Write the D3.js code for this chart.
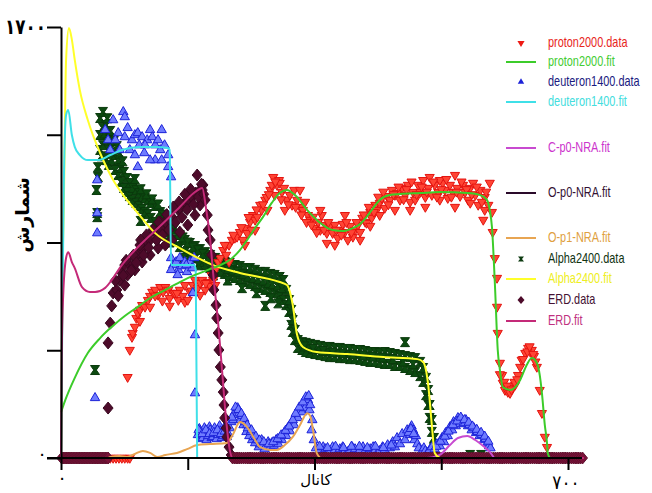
<!DOCTYPE html>
<html>
<head>
<meta charset="utf-8">
<script src="https://cdn.jsdelivr.net/npm/d3@7"></script>
<style>
  body { margin: 0; background: #fff; }
  .leg { font-family: "Liberation Sans", Arial, sans-serif; font-size: 14px; }
  .fa { font-family: "DejaVu Sans", sans-serif; }
</style>
</head>
<body>
<script>
var width = 652,
    height = 493;

// ---- data: [channel, counts] ----
var protonData = [
  [68,0],[72,0],[76,0],[80,0],[84,0],[88,0],[92,0],[95,0],
  [92,319],[95,426],[98,477],[99,493],[102,517],[104,552],[106,572],[109,584],[112,603],[116,596],[120,623],[123,639],
  [126,655],[130,663],[134,643],[137,674],[141,655],[144,674],[148,663],[150,631],[155,651],[157,651],[162,623],[164,663],
  [168,639],[171,615],[175,623],[178,655],[182,682],[185,702],[189,671],[192,690],[195,702],[199,663],[203,694],[206,678],
  [210,702],[213,742],[217,773],[220,789],[224,820],[228,801],[232,840],[236,860],[240,868],[243,872],[247,891],[251,860],
  [254,907],[257,887],[261,931],[265,958],[268,939],[271,951],[275,998],[277,978],[282,1018],[284,1029],[289,1057],[291,1077],
  [293,1108],[295,1037],[298,1077],[301,1096],[302,1085],[305,1049],[308,1065],[312,1018],[316,1037],[319,998],[322,1057],
  [326,1018],[330,990],[334,978],[337,1010],[341,958],[344,939],[348,951],[351,907],[355,931],[358,899],[360,958],[365,919],
  [367,887],[367,848],[371,915],[375,887],[378,919],[382,868],[385,899],[389,923],[392,891],[396,860],[399,915],[403,872],
  [406,899],[410,919],[413,891],[416,947],[420,931],[422,927],[427,970],[429,947],[434,998],[436,978],[440,1006],[443,1025],
  [447,986],[450,1033],[454,1018],[457,1057],[461,1037],[464,1045],[468,1018],[471,1065],[475,1037],[479,1077],[482,1010],
  [486,1049],[489,1018],[493,1077],[496,1049],[500,1096],[503,1029],[507,1065],[509,1108],[512,1037],[516,1077],[521,1049],
  [523,1018],[527,1085],[530,1057],[534,1025],[537,1077],[541,1049],[544,1116],[547,1065],[551,1033],[555,1077],[558,1049],
  [562,1018],[565,1065],[569,1085],[572,1037],[576,998],[579,1057],[583,939],[585,1029],[590,998],[592,1085],[595,970],
  [596,891],[599,788],[602,710],[602,596],[603,493],[606,375],[609,327],[610,296],[613,268],[617,260],[620,256],[623,276],
  [627,288],[631,327],[634,359],[636,387],[641,414],[645,434],[648,418],[650,426],[653,402],[657,359],[661,268],[664,177],
  [668,83],[671,43],[674,8],
  [309,978],[330,1057],[358,978],[378,840],[392,958],[413,860],[427,915],[440,958],[461,978],[482,978],[503,990],[523,1096],
  [544,990],[565,1006],[585,978],[285,978],[268,899],[254,840],[232,773],[213,682],[192,643],[171,682],[150,600],[123,596],[109,540],
  [226,840],[238,880],[249,910],[259,950],[263,900],[270,980],[279,1000],[287,1040],[296,1090],[304,1020],[314,1000],[324,990],
  [332,960],[339,930],[346,920],[353,890],[363,900],[369,930],[380,900],[387,880],[394,930],[401,890],[408,930],[418,960],
  [425,990],[432,970],[438,1030],[445,1050],[452,1000],[459,1040],[466,1070],[473,1020],[477,1060],[484,1090],[491,1040],
  [498,1070],[505,1050],[514,1090],[519,1030],[525,1060],[532,1100],[539,1030],[546,1050],[553,1090],[560,1060],[567,1040],
  [574,1070],[581,1010],[587,1050],[130,640],[140,620],[160,650],[180,660],[200,690],[208,720],
  [606,330],[612,300],[616,285],[622,270],[626,300],[630,310],[638,390],[644,420],[647,440],[652,410],[655,380]
];

var deuteronData = [
  [47,237],[50,1096],[50,966],[50,887],
  [61,1294],[65,1254],[72,1333],[79,1282],[86,1365],[88,1345],[92,1302],[98,1254],[102,1274],[106,1282],[108,1234],[112,1266],
  [115,1203],[119,1254],[123,1294],[126,1266],[130,1234],[130,1175],[134,1254],[137,1215],[139,1294],[139,1175],[143,1234],
  [148,1195],[148,1148],[152,1108],[106,1148],[95,1215],[81,1215],[68,1215],[75,1254],[88,1266],[102,1195],[116,1234],[123,1175],
  [152,789],[155,761],[159,773],[162,742],[164,789],[167,757],[171,773],[174,734],[178,773],[181,749],[184,789],[152,742],
  [161,722],[173,761],[182,651],[185,485],[185,256],
  [189,91],[191,115],[192,103],[194,75],[196,79],[198,118],[199,99],[201,71],[203,87],[205,122],[206,110],[208,79],[210,83],
  [212,118],[213,99],[215,75],[217,91],[219,126],[220,106],[222,79],[224,87],[226,122],[227,103],[229,83],[231,95],
  [233,118],[235,142],[238,150],[240,181],[242,170],[244,197],[246,177],[248,150],[250,166],[252,130],[254,142],[256,103],
  [258,118],[260,87],[262,103],[264,71],[266,83],[268,59],[271,71],[273,43],[275,55],[277,71],[279,51],[281,35],[283,47],
  [286,63],[289,43],[291,59],[294,47],[297,71],[300,55],[302,79],[305,71],[308,99],[311,87],[313,118],[316,106],[319,142],
  [322,130],[325,166],[327,158],[330,189],[333,181],[335,213],[337,197],[339,229],[341,229],[343,189],[344,209],[346,110],
  [347,150],[349,71],[352,39],
  [355,20],[358,32],[362,43],[365,35],[369,24],[372,28],[375,43],[378,32],[382,20],[385,35],[389,43],[392,28],[396,24],
  [399,32],[402,43],[406,35],[410,20],[413,32],[417,43],[420,28],[424,24],[427,35],[431,43],[434,32],[437,20],[440,28],
  [444,43],[447,32],[451,51],[454,39],[458,63],[461,43],[464,79],[468,55],[471,95],[475,71],[478,110],[482,91],[484,126],
  [486,110],[488,71],[490,87],[492,55],[494,39],[498,24],[501,39],[503,28],[506,20],[509,32],[512,43],
  [516,35],[519,55],[523,47],[526,79],[529,63],[531,99],[534,87],[537,122],[540,110],[542,142],[545,126],[548,158],[551,134],
  [553,154],[556,138],[559,150],[562,126],[564,130],[567,110],[570,118],[573,99],[575,103],[578,87],[581,91],[584,71],
  [586,75],[589,59],[591,47],[593,39],
  [236,160],[241,200],[245,190],[249,175],[253,155],[257,130],[263,110],[269,85],[274,70],[280,63],[287,55],[293,63],
  [299,75],[304,90],[310,108],[315,125],[320,150],[324,175],[329,200],[334,220],[338,240],[342,245],
  [190,110],[195,95],[200,110],[205,95],[211,100],[216,110],[221,95],[226,105],
  [518,45],[524,65],[530,85],[535,105],[541,130],[547,145],[552,160],[557,150],[563,140],[568,125],[574,112],[580,100],
  [585,85],[590,65],[480,100],[483,115],[487,95],
  [357,45],[368,40],[379,45],[390,40],[401,45],[412,45],[423,40],[434,45],[445,40],[456,50]
];

var alphaData = [
  [47,347],[49,1057],[50,966],[51,1108],[51,1147],[50,950],
  [54,1341],[54,1274],[54,1215],[58,1365],[58,1302],[58,1234],[62,1313],[62,1254],[62,1175],[66,1262],[66,1215],[66,1156],
  [70,1223],[70,1175],[75,1195],[75,1136],[79,1175],[79,1116],[83,1144],[83,1089],[87,1128],[87,1065],[91,1104],[91,1049],
  [95,1085],[95,1033],[99,1065],[99,1018],[104,1057],[104,1006],[108,1045],[108,994],[112,1033],[112,982],[116,1025],[116,970],
  [120,1018],[120,962],[124,1006],[124,947],[130,994],[130,931],[137,970],[137,919],[144,947],[144,891],[150,931],[150,876],
  [157,907],[157,860],[164,880],[164,832],[171,860],[171,812],[178,848],[178,801],[185,836],[185,789],[192,824],[192,773],
  [199,812],[199,761],[206,801],[206,749],[213,789],[213,742],[220,781],[220,734],[226,773],[226,726],[233,769],[233,718],
  [240,761],[240,710],[247,757],[247,702],[254,749],[254,694],[261,749],[261,686],[268,742],[268,678],[275,734],[275,671],
  [282,734],[282,663],[289,726],[289,655],[295,722],[295,651],[302,714],[302,639],[307,702],[307,623],[311,663],[311,603],
  [315,623],[315,576],[318,584],[318,525],[320,544],[320,497],[323,505],[323,465],[327,465],[327,434],[333,457],[333,426],
  [338,454],[338,418],[344,450],[344,414],[351,446],[351,410],[358,442],[358,406],[365,438],[365,402],[371,438],[371,398],
  [378,434],[378,398],[385,434],[385,394],[392,430],[392,394],[399,430],[399,390],[406,426],[406,390],[413,426],[413,387],
  [420,422],[420,383],[427,418],[427,379],[434,418],[434,379],[440,414],[440,375],[447,418],[447,371],[454,414],[454,371],
  [461,410],[461,363],[468,406],[468,363],[475,402],[475,355],[482,398],[482,347],[489,394],[489,339],[496,379],[496,323],
  [500,355],[500,300],[504,316],[504,248],[507,268],[507,209],[509,209],[509,158],[512,150],[512,103],[515,79],[515,39],
  [475,457],[282,600],[565,12],[580,12],
  [56,1190],[60,1280],[64,1340],[68,1290],[73,1250],[77,1230],[81,1200],[85,1170],
  [102,1100],[110,1060],[118,1040],[126,1020],[134,1000],[141,960],[147,930],[154,900],[161,880],[168,870],[175,850],
  [182,830],[189,820],[196,805],[203,790],[210,775],[216,765],[223,760],[230,745],[237,740],[244,735],[251,725],[258,715],
  [265,710],[272,705],[279,700],[286,690],[292,685],[299,680],[305,670],
  [110,935],[130,900],[150,850],[170,790],[190,760],[210,720],[230,700],[250,670],[270,650],[290,630],[300,610],
  [336,440],[348,430],[362,422],[375,416],[389,412],[403,408],[417,404],[430,400],[444,396],[458,390],[472,380],[486,370]
];

var erdData = [
  [65,197],[68,532],[65,454],[72,651],[77,663],[84,730],[88,682],[95,761],[102,789],[106,809],[112,820],[116,852],[123,860],
  [130,887],[137,907],[144,931],[150,939],[153,951],[162,978],[168,998],[175,1018],[181,1029],[186,1045],[192,1057],[195,1057],
  [188,1116],[196,1077],
  [81,702],[92,722],[102,742],[112,773],[123,801],[134,828],[144,840],[153,860],[164,891],[175,919],[185,958],[192,998],
  [88,761],[109,840],[137,931],[164,986],
  [70,600],[75,700],[79,640],[86,720],[90,780],[97,740],[100,800],[104,770],[110,860],[114,800],[118,880],[121,830],
  [127,900],[132,860],[135,930],[140,880],[146,960],[149,900],[155,990],[158,930],[163,1010],[167,950],[171,1040],[174,980],
  [179,1060],[183,1000],[190,1030],[194,1080],[197,1040],
  [199,1018],[202,958],[203,899],[206,860],[208,801],[210,722],[211,663],[214,603],[215,552],[217,493],[218,426],[220,359],
  [222,308],[224,260],[225,209],[226,158],[228,118],[229,83],[232,43],[235,12]
];

// channels where the ERD spectrum sits on zero
var erdZeroChannels = [1,3,5,7,9,11,13,15,17,19,21,23,25,27,29,31,33,35,37,39,41,43,45,47,49,51,53,55,57,59,61,63,65,
  237,240,243,246,249,252,255,258,261,264,267,270,273,276,279,282,285,288,291,294,297,300,303,306,309,312,315,318,321,
  324,327,330,333,336,339,342,345,348,351,354,357,360,363,366,369,372,375,378,381,384,387,390,393,396,399,402,405,408,
  411,414,417,420,423,426,429,432,435,438,441,444,447,450,453,456,459,462,465,468,471,474,477,480,483,486,489,492,495,
  498,501,504,507,510,513,516,519,522,525,528,531,534,537,540,543,546,549,552,555,558,561,564,567,570,573,576,579,582,
  585,588,591,594,597,600,603,606,609,612,615,618,621,624,627,630,633,636,639,642,645,648,651,654,657,660,663,666,669,
  672,675,678,681,684,687,690,693,696,699,702,705,708,711,714,717,720];

var protonFit = [[0,180],[6,229],[19,316],[37,414],[54,473],[70,517],[88,560],[106,596],[123,631],[144,663],[164,694],
  [185,722],[203,742],[220,761],[233,781],[247,820],[257,860],[268,907],[279,951],[291,1006],[302,1045],[312,1057],
  [323,1037],[340,978],[358,927],[375,899],[389,895],[403,907],[413,923],[422,951],[431,986],[440,1018],[454,1037],
  [468,1041],[496,1045],[523,1049],[561,1045],[579,1037],[588,1018],[592,978],[595,911],[599,690],[603,426],[606,347],
  [610,280],[620,268],[634,308],[643,367],[650,394],[657,375],[661,327],[664,256],[668,130],[671,59],[672,20],[675,0]];

var deuteronFit = [[0,0],[2,600],[4,1100],[7,1353],[10,1373],[15,1274],[19,1227],[26,1195],[37,1175],[51,1175],[68,1195],
  [84,1215],[109,1227],[130,1227],[148,1223],[150,1215],[152,761],[171,761],[184,761],[186,742],[188,0]];

var cp0Fit = [[505,0],[512,2],[523,12],[537,51],[548,79],[561,87],[572,71],[583,47],[592,24],[598,0]];

var op0Fit = [[0,0],[720,0]];

var op1Fit = [[65,0],[68,4],[81,8],[91,4],[102,16],[113,28],[123,20],[133,4],[144,12],[160,20],[174,35],[188,51],[206,55],
  [229,59],[237,91],[247,142],[257,122],[268,71],[275,43],[289,32],[298,32],[309,51],[320,83],[330,130],[340,177],[344,166],
  [348,110],[353,20],[358,0]];

var alphaFit = [[0,0],[2,700],[4,1018],[7,1570],[11,1696],[15,1650],[19,1570],[26,1451],[37,1333],[54,1203],[72,1097],
  [84,1045],[106,966],[130,887],[164,828],[210,761],[247,730],[302,694],[312,682],[320,603],[326,485],[334,438],[353,418],
  [395,410],[445,398],[492,390],[500,379],[507,288],[512,130],[516,20],[523,0]];

var erdFit = [[0,0],[1,400],[3,640],[7,789],[10,812],[15,773],[19,749],[29,674],[40,655],[47,655],[61,671],[72,710],
  [81,749],[109,840],[137,915],[164,990],[185,1049],[195,1065],[200,990],[206,860],[210,730],[217,532],[222,359],
  [228,150],[233,32],[237,0],[722,0]];

var legendLabels = ["proton2000.data", "proton2000.fit", "deuteron1400.data", "deuteron1400.fit", "C-p0-NRA.fit",
  "O-p0-NRA.fit", "O-p1-NRA.fit", "Alpha2400.data", "Alpha2400.fit", "ERD.data", "ERD.fit"];
var xTicks = [0, 175, 350, 525, 700];
var yTicks = [0, 425, 850, 1275, 1700];
var xTickLabels = ["۰", "۷۰۰"];
var yTickLabels = ["۰", "۱۷۰۰"];
var xTitle = "كانال",
    yTitle = "شمارش";

// ---- layout / styles ----
var legendY = [42, 61, 81, 101, 147, 192, 237, 258, 278, 299, 320];
var legendText = ["#e8261c", "#44cc33", "#1a1a80", "#44dddd", "#cc33cc", "#331133", "#e0a040", "#113311", "#eeee22", "#441133", "#c03080"];
var legendKind = ["tri-down", "line", "tri-up", "line", "line", "line", "line", "hour", "line", "diamond", "line"];
var legendStroke = ["#ee1a14", "#3ccc2a", "#1c22d8", "#3fe0e8", "#c84ad0", "#2a0a2a", "#e8a552", "#0c3a10", "#ffff2a", "#4d0b2a", "#c42a78"];

var x = d3.scaleLinear().domain([0, 700]).range([61, 568]);
var y = d3.scaleLinear().domain([0, 1700]).range([458, 27]);

var svg = d3.select("body").append("svg")
    .attr("width", width)
    .attr("height", height);

var line = d3.line()
    .x(function(d) { return x(d[0]); })
    .y(function(d) { return y(d[1]); })
    .curve(d3.curveMonotoneX);

var triUp = d3.symbol().type(d3.symbolTriangle).size(38)();
var triDown = d3.symbol().type(d3.symbolTriangle).size(36)();
var hourglass = "M-4.5,-4.5H4.5L1.3,0L4.5,4.5H-4.5L-1.3,0Z";
var diamond = "M0,-6L5,0L0,6L-5,0Z";

// baseline fit under everything
svg.append("path").datum(op0Fit).attr("d", line)
    .attr("fill", "none").attr("stroke", "#2a0a2a").attr("stroke-width", 2);

function scatter(data, shape, fill, stroke, rot) {
  svg.append("g").selectAll("path")
    .data(data)
    .enter().append("path")
    .attr("d", shape)
    .attr("transform", function(d) {
      return "translate(" + x(d[0]) + "," + y(d[1]) + ")" + (rot ? " rotate(180)" : "");
    })
    .attr("fill", fill)
    .attr("stroke", stroke)
    .attr("stroke-width", 1);
}

scatter(alphaData, hourglass, "#0c4a10", "#0a3a0c", false);
scatter(protonData, triDown, "#ff4434", "#e41410", true);
scatter(deuteronData, triUp, "#6f7cff", "#1c22d8", false);
scatter(erdData, diamond, "#4d0b2a", "#3a0820", false);
scatter(erdZeroChannels.map(function(c) { return [c, 0]; }), diamond, "#7a1238", "#60102e", false);

// fits
[[op1Fit, "#e8a552"], [cp0Fit, "#c84ad0"], [alphaFit, "#ffff2a"], [deuteronFit, "#3fe0e8"],
 [protonFit, "#3ccc2a"], [erdFit, "#c42a78"]].forEach(function(f) {
  svg.append("path").datum(f[0]).attr("d", line)
    .attr("fill", "none").attr("stroke", f[1]).attr("stroke-width", 2);
});

// axes
svg.append("g")
    .attr("transform", "translate(0," + y(0) + ")")
    .call(d3.axisBottom(x).tickValues(xTicks).tickSize(12).tickSizeOuter(0).tickFormat(""))
    .call(function(g) { g.select(".domain").remove(); })
    .selectAll("line").attr("stroke", "#000").attr("stroke-width", 2);

svg.append("g")
    .attr("transform", "translate(" + x(0) + ",0)")
    .call(d3.axisLeft(y).tickValues(yTicks).tickSize(14).tickSizeOuter(0).tickFormat(""))
    .call(function(g) { g.select(".domain").attr("stroke-width", 2); })
    .selectAll("line").attr("stroke", "#000").attr("stroke-width", 2);

svg.append("line")
    .attr("x1", 47).attr("x2", 582)
    .attr("y1", y(0)).attr("y2", y(0))
    .attr("stroke", "#000").attr("stroke-width", 2);

// axis texts
svg.append("text").attr("class", "fa")
    .attr("transform", "translate(46," + (y(1700) + 7) + ") scale(0.8,1)")
    .attr("text-anchor", "end").attr("font-size", 21).attr("font-weight", "bold")
    .text(yTickLabels[1]);
svg.append("text").attr("class", "fa")
    .attr("x", 42).attr("y", y(0) + 2)
    .attr("text-anchor", "middle").attr("font-size", 18)
    .text(yTickLabels[0]);
svg.append("text").attr("class", "fa")
    .attr("x", x(0) + 1).attr("y", 484)
    .attr("text-anchor", "middle").attr("font-size", 18)
    .text(xTickLabels[0]);
svg.append("text").attr("class", "fa")
    .attr("transform", "translate(" + (x(700) - 2) + ",489) scale(0.85,1)")
    .attr("text-anchor", "middle").attr("font-size", 20)
    .text(xTickLabels[1]);
svg.append("text").attr("class", "fa")
    .attr("x", 316).attr("y", 485)
    .attr("text-anchor", "middle").attr("font-size", 15)
    .text(xTitle);
svg.append("text").attr("class", "fa")
    .attr("transform", "translate(29,215) rotate(-90)")
    .attr("text-anchor", "middle").attr("font-size", 19).attr("font-weight", "bold")
    .text(yTitle);

// legend
var leg = svg.append("g").attr("class", "leg");
legendLabels.forEach(function(name, i) {
  var ly = legendY[i];
  var k = legendKind[i];
  if (k === "line") {
    leg.append("line").attr("x1", 506).attr("x2", 536).attr("y1", ly + 1).attr("y2", ly + 1)
      .attr("stroke", legendStroke[i]).attr("stroke-width", 2);
  } else {
    var shape = k === "tri-down" ? d3.symbol().type(d3.symbolTriangle).size(22)()
              : k === "tri-up" ? d3.symbol().type(d3.symbolTriangle).size(18)()
              : k === "hour" ? "M-3,-2.5H3L1,0L3,2.5H-3L-1,0Z" : "M0,-4L3.5,0L0,4L-3.5,0Z";
    leg.append("path").attr("d", shape)
      .attr("transform", "translate(521," + (ly + 1) + ")" + (k === "tri-down" ? " rotate(180)" : ""))
      .attr("fill", legendStroke[i]);
  }
  leg.append("text")
    .attr("transform", "translate(548," + (ly + 5) + ") scale(0.78,1)")
    .attr("fill", legendText[i]).text(name);
});
</script>
</body>
</html>
